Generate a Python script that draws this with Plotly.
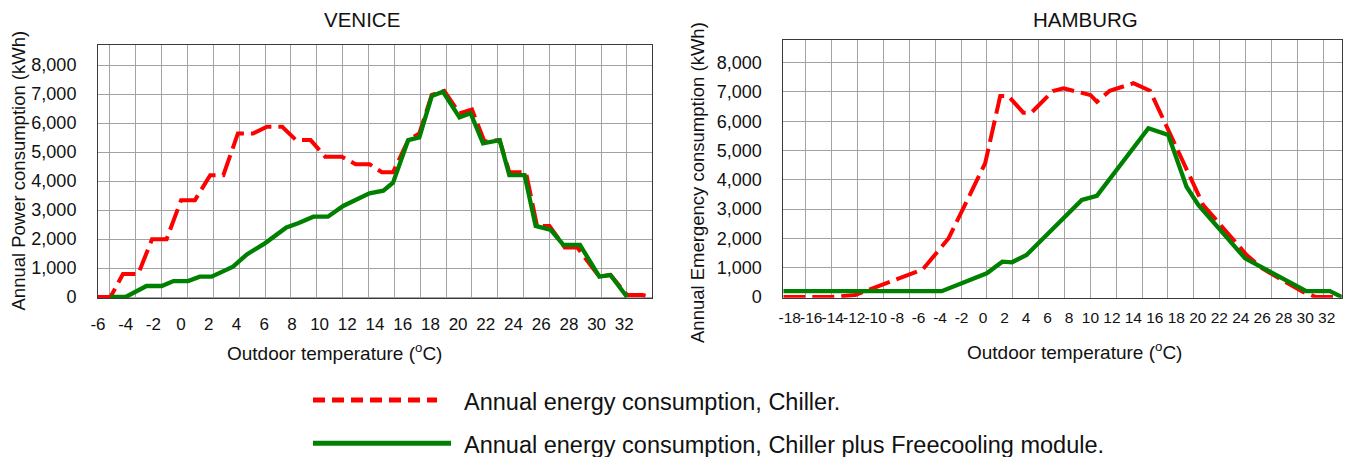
import plotly.graph_objects as go

W, H = 1362, 457

# ---------------- data ----------------
venice_chiller_t = [-6, -5.1, -4.2, -3.1, -2.1, -1.05, 0, 1, 2.1, 3.05, 4.1, 5.2, 6.2, 7.3,
                    8.3, 9.35, 10.4, 11.6, 12.6, 13.6, 14.5, 15.3, 16.4, 17.2, 18.1, 19,
                    20.1, 21, 21.9, 23, 23.7, 24.9, 25.7, 26.6, 27.7, 28.6, 30.2, 31, 32.2,
                    33.3, 34]
venice_chiller_kwh = [0, 0, 790, 790, 1990, 1990, 3340, 3340, 4200, 4200, 5640, 5640, 5870, 5870,
                      5410, 5410, 4840, 4840, 4580, 4580, 4300, 4300, 5410, 5640, 6970, 7110,
                      6330, 6470, 5360, 5410, 4300, 4300, 2450, 2450, 1710, 1710, 700, 760, 70,
                      70, 0]

venice_free_t = [-5.1, -4, -2.5, -1.4, -0.55, 0.5, 1.35, 2.2, 3.75, 4.75, 6.05, 7.6, 8.45, 9.55,
                 10.6, 11.7, 13.6, 14.6, 15.3, 16.4, 17.2, 18.1, 18.9, 20.1, 20.9, 21.8, 23,
                 23.7, 24.8, 25.6, 26.7, 27.6, 28.8, 30.2, 31, 32.2]
venice_free_kwh = [0, 0, 380, 380, 550, 550, 700, 700, 1045, 1470, 1850, 2400, 2540, 2770,
                   2770, 3140, 3575, 3665, 3940, 5410, 5505, 6930, 7080, 6195, 6335, 5300, 5410,
                   4205, 4205, 2450, 2310, 1795, 1795, 700, 760, 0]

hamburg_chiller_t = [-18.6, -14.1, -11.9, -5.6, -3.2, 0.2, 1.6, 2.35, 3.75, 4.5, 6.5, 7.5, 10.0,
                     10.6, 11.8, 14.0, 15.55, 20.5, 24.55, 26.0, 29.8, 31.0, 33.4]
hamburg_chiller_kwh = [0, 0, 70, 945, 2005, 4565, 6860, 6860, 6290, 6290, 7030, 7120, 6895,
                       6665, 7040, 7295, 7040, 3140, 1435, 975, 170, 0, 0]

hamburg_free_t = [-18.6, -3.85, 0.35, 1.8, 2.7, 4.05, 9.2, 10.6, 15.4, 17.25, 18.95, 20.05,
                  24.4, 25.8, 30.1, 32.3, 33.4]
hamburg_free_kwh = [200, 200, 810, 1205, 1185, 1435, 3310, 3455, 5760, 5530, 3765, 3140,
                    1320, 1035, 200, 200, 0]

venice_ticks = list(range(-6, 33, 2))
hamburg_ticks = list(range(-18, 33, 2))
y_ticks = list(range(0, 8001, 1000))

series_names = ["Annual energy consumption, Chiller.",
                "Annual energy consumption, Chiller plus Freecooling module."]

RED = "#ff0000"
GREEN = "#008000"
FONT = "Liberation Sans, Arial, sans-serif"
TXT = "#111111"
GRID = "#a3a3a3"
BORDER = "#3a3a3a"


def px(x):
    return x / W


def py(y):
    return 1 - y / H


fig = go.Figure()

# data traces live on the overlay axes (x3 over x, x4 over x2) so they sit above the grid
fig.add_trace(go.Scatter(x=venice_chiller_t, y=venice_chiller_kwh, mode="lines",
                         line=dict(color=RED, width=4, dash="22px,7px"),
                         name=series_names[0], xaxis="x3", yaxis="y", showlegend=False))
fig.add_trace(go.Scatter(x=venice_free_t, y=venice_free_kwh, mode="lines",
                         line=dict(color=GREEN, width=4.3),
                         name=series_names[1], xaxis="x3", yaxis="y", showlegend=False))
fig.add_trace(go.Scatter(x=hamburg_chiller_t, y=hamburg_chiller_kwh, mode="lines",
                         line=dict(color=RED, width=4, dash="22px,7px"),
                         name=series_names[0], xaxis="x4", yaxis="y2", showlegend=False))
fig.add_trace(go.Scatter(x=hamburg_free_t, y=hamburg_free_kwh, mode="lines",
                         line=dict(color=GREEN, width=4.3),
                         name=series_names[1], xaxis="x4", yaxis="y2", showlegend=False))
# empty traces so the grid-only base axes exist
fig.add_trace(go.Scatter(x=[], y=[], xaxis="x", yaxis="y", showlegend=False, hoverinfo="skip"))
fig.add_trace(go.Scatter(x=[], y=[], xaxis="x2", yaxis="y2", showlegend=False, hoverinfo="skip"))

grid_x = dict(showline=True, linecolor=BORDER, linewidth=1, mirror=True, automargin=False,
              showgrid=True, gridcolor=GRID, gridwidth=1, zeroline=False, ticks="",
              showticklabels=False, tickmode="linear")
label_x = dict(showline=False, showgrid=False, zeroline=False, ticks="", tickmode="array",
               tickangle=0, automargin=False)
common_y = dict(showline=True, linecolor=BORDER, linewidth=1, mirror=True, automargin=False,
                showgrid=True, gridcolor=GRID, gridwidth=1, zeroline=False, ticks="",
                tickmode="array", tickvals=y_ticks, ticktext=[f"{v:,}" for v in y_ticks],
                tickfont=dict(family=FONT, size=18, color=TXT), ticklabelstandoff=17)

v_dom = [px(98), px(652)]
h_dom = [px(783.3), px(1341.7)]
v_rng = [-6, 34]
h_rng = [-18.6, 33.4]

fig.update_layout(
    width=W, height=H, margin=dict(l=0, r=0, t=0, b=0, pad=0, autoexpand=False),
    paper_bgcolor="white", plot_bgcolor="white", showlegend=False,
    xaxis=dict(grid_x, domain=v_dom, range=v_rng, anchor="y", tick0=-5.134, dtick=1.8664),
    xaxis3=dict(label_x, domain=v_dom, range=v_rng, anchor="y", overlaying="x",
                tickvals=venice_ticks, ticktext=[str(v) for v in venice_ticks],
                tickfont=dict(family=FONT, size=17, color=TXT), ticklabelstandoff=14),
    yaxis=dict(common_y, domain=[py(298), py(45)], range=[-34.5, 8690], anchor="x"),
    xaxis2=dict(grid_x, domain=h_dom, range=h_rng, anchor="y2", tick0=-16.49, dtick=2.408),
    xaxis4=dict(label_x, domain=h_dom, range=h_rng, anchor="y2", overlaying="x2",
                tickvals=hamburg_ticks, ticktext=[str(v) for v in hamburg_ticks],
                tickfont=dict(family=FONT, size=15.5, color=TXT), ticklabelstandoff=9),
    yaxis2=dict(common_y, domain=[py(297.7), py(40)], range=[-24, 8771], anchor="x2"),
)

ann = []
ann.append(dict(text="VENICE", x=px(362), y=py(19), font=dict(family=FONT, size=20.5, color=TXT)))
ann.append(dict(text="HAMBURG", x=px(1085), y=py(19), font=dict(family=FONT, size=20.5, color=TXT)))
ann.append(dict(text="Annual Power consumption (kWh)", x=px(17.5), y=py(171), textangle=-90,
                font=dict(family=FONT, size=18.5, color=TXT)))
ann.append(dict(text="Annual Emergency consumption (kWh)", x=px(698), y=py(183), textangle=-90,
                font=dict(family=FONT, size=18.5, color=TXT)))
ann.append(dict(text="Outdoor temperature (<sup>o</sup>C)", x=px(334), y=py(352),
                font=dict(family=FONT, size=19, color=TXT)))
ann.append(dict(text="Outdoor temperature (<sup>o</sup>C)", x=px(1074), y=py(351),
                font=dict(family=FONT, size=19, color=TXT)))
ann.append(dict(text=series_names[0], x=px(462), y=py(402), xanchor="left",
                font=dict(family=FONT, size=23.5, color=TXT)))
ann.append(dict(text=series_names[1], x=px(462), y=py(445), xanchor="left",
                font=dict(family=FONT, size=23.5, color=TXT)))
for a in ann:
    a.setdefault("xanchor", "center")
    a.update(xref="paper", yref="paper", yanchor="middle", showarrow=False)
fig.update_layout(annotations=ann)

fig.update_layout(shapes=[
    dict(type="line", xref="paper", yref="paper", x0=px(313), x1=px(437), y0=py(400), y1=py(400),
         line=dict(color=RED, width=5, dash="12px,7px")),
    dict(type="line", xref="paper", yref="paper", x0=px(313), x1=px(451), y0=py(443.3),
         y1=py(443.3), line=dict(color=GREEN, width=5)),
])

fig.write_html("out.html")
